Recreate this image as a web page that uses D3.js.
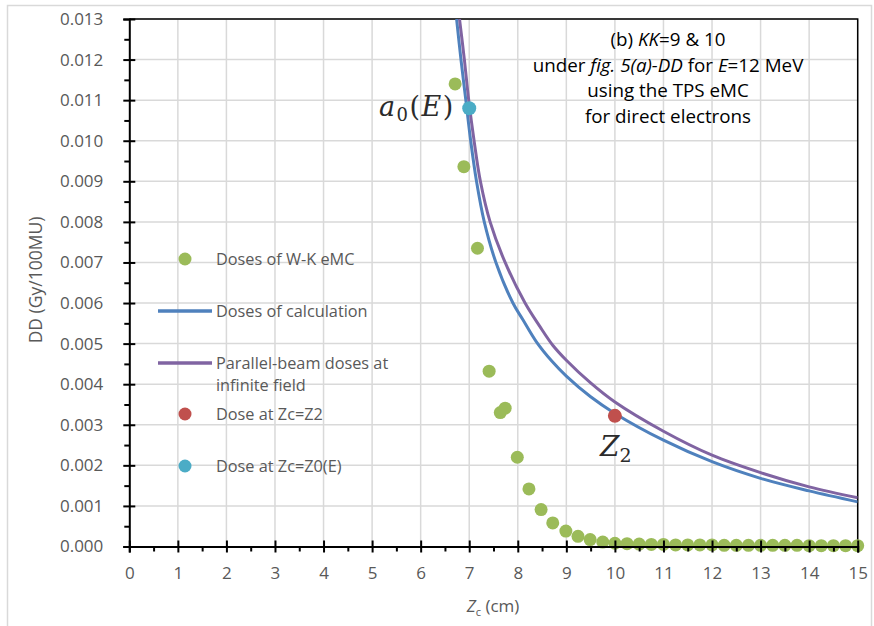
<!DOCTYPE html>
<html>
<head>
<meta charset="utf-8">
<script src="https://cdn.jsdelivr.net/npm/d3@7"></script>
<style>
	body { margin: 0; background: #fff; }
	text { font-family: "Open Sans", sans-serif; }
	text.math { font-family: "DejaVu Serif", serif; }
</style>
</head>
<body>
<svg id="chart" width="874" height="626"></svg>
<script>
// W-K eMC doses (green dots)
var wkZ = [6.71, 6.89, 7.17, 7.41, 7.64, 7.74, 7.99, 8.23, 8.48, 8.72, 8.99, 9.24, 9.49, 9.75, 10.0, 10.25,
	10.5, 10.75, 11.0, 11.25, 11.5, 11.75, 12.0, 12.25, 12.5, 12.75, 13.0, 13.25, 13.5, 13.75, 14.0, 14.25, 14.5, 14.75, 15.0];
var wkDose = [0.01140, 0.00936, 0.00735, 0.00432, 0.00330, 0.00341, 0.00220, 0.00142, 0.00091, 0.00058, 0.00038, 0.00025, 0.00017, 0.00011, 0.00008, 0.00007,
	0.00006, 0.00005, 0.00005, 0.00004, 0.00004, 0.00004, 0.00004, 0.00003, 0.00003, 0.00003, 0.00003, 0.00003, 0.00003, 0.00003, 0.00002, 0.00002, 0.00002, 0.00002, 0.00002];

// doses of calculation (blue line)
var calcZ = [6.74, 6.83, 6.93, 7.03, 7.15, 7.31, 7.55, 7.90, 8.10, 8.38, 8.70, 9.0, 9.5, 10, 11, 12, 13, 14, 15];
var calcDose = [0.013, 0.012, 0.011, 0.010, 0.009, 0.008, 0.007, 0.006, 0.0056, 0.00505, 0.00457, 0.0042, 0.00369, 0.00328, 0.00262, 0.00209, 0.00168, 0.00137, 0.00110];

// parallel-beam doses at infinite field (purple line)
var parZ = [6.80, 6.90, 6.99, 7.10, 7.23, 7.43, 7.74, 8.15, 8.45, 8.72, 9.0, 9.5, 10, 11, 12, 13, 14, 15];
var parDose = [0.013, 0.012, 0.011, 0.010, 0.009, 0.008, 0.007, 0.006, 0.00543, 0.00496, 0.00459, 0.00403, 0.00356, 0.00284, 0.00225, 0.00182, 0.00147, 0.00120];

// single marked points
var z2Z = [10.0], z2Dose = [0.00322];
var z0Z = [7.0], z0Dose = [0.0108];

var xTicks = [0, 1, 2, 3, 4, 5, 6, 7, 8, 9, 10, 11, 12, 13, 14, 15];
var xMinor = [0.5, 1.5, 2.5, 3.5, 4.5, 5.5, 6.5, 7.5, 8.5, 9.5, 10.5, 11.5, 12.5, 13.5, 14.5];
var yTicks = [0, 0.001, 0.002, 0.003, 0.004, 0.005, 0.006, 0.007, 0.008, 0.009, 0.010, 0.011, 0.012, 0.013];
var yMinor = [0.0005, 0.0015, 0.0025, 0.0035, 0.0045, 0.0055, 0.0065, 0.0075, 0.0085, 0.0095, 0.0105, 0.0115, 0.0125];

var legendItems = [
	{ kind: "dot", color: "#9bbb59", lines: ["Doses of W-K eMC"], y: 259 },
	{ kind: "line", color: "#4f81bd", lines: ["Doses of calculation"], y: 311 },
	{ kind: "line", color: "#8064a2", lines: ["Parallel-beam doses at", "infinite field"], y: 363 },
	{ kind: "dot", color: "#c0504d", lines: ["Dose at Zc=Z2"], y: 414 },
	{ kind: "dot", color: "#4bacc6", lines: ["Dose at Zc=Z0(E)"], y: 466 }
];

var pLeft = 129.3, pTop = 19, pRight = 857.7, pBottom = 546.5;
var svg = d3.select("#chart");

// outer chart border
svg.append("rect")
	.attr("x", 7.5).attr("y", 5.5)
	.attr("width", 864).attr("height", 640)
	.attr("fill", "none")
	.attr("stroke", "#d9d9d9")
	.attr("stroke-width", 1.5);

var x = d3.scaleLinear().domain([0, 15]).range([pLeft, pRight]);
var y = d3.scaleLinear().domain([0, 0.013]).range([pBottom, pTop]);

// grid
var grid = svg.append("g").attr("class", "grid");
grid.selectAll("line.v")
	.data(xTicks.slice(1))
	.enter().append("line")
	.attr("x1", function(d) { return x(d); })
	.attr("x2", function(d) { return x(d); })
	.attr("y1", pTop).attr("y2", pBottom)
	.attr("stroke", "#d9d9d9").attr("stroke-width", 1.5);
grid.selectAll("line.h")
	.data(yTicks.slice(1))
	.enter().append("line")
	.attr("x1", pLeft).attr("x2", pRight)
	.attr("y1", function(d) { return y(d); })
	.attr("y2", function(d) { return y(d); })
	.attr("stroke", "#d9d9d9").attr("stroke-width", 1.5);

// plot frame (top and right)
svg.append("path")
	.attr("d", "M" + pLeft + "," + pTop + "H" + pRight + "V" + pBottom)
	.attr("fill", "none")
	.attr("stroke", "#000")
	.attr("stroke-width", 1.5);

svg.append("clipPath").attr("id", "plotclip")
	.append("rect")
	.attr("x", pLeft).attr("y", pTop)
	.attr("width", pRight - pLeft).attr("height", pBottom - pTop);

var plot = svg.append("g").attr("clip-path", "url(#plotclip)");

// green dots under the lines
svg.append("g")
	.selectAll("circle")
	.data(wkZ.map(function(z, i) { return [z, wkDose[i]]; }))
	.enter().append("circle")
	.attr("cx", function(d) { return x(d[0]); })
	.attr("cy", function(d) { return y(d[1]); })
	.attr("r", 6.5)
	.attr("fill", "#9bbb59");

var line = d3.line()
	.x(function(d) { return x(d[0]); })
	.y(function(d) { return y(d[1]); })
	.curve(d3.curveCatmullRom.alpha(0.5));

plot.append("path")
	.datum(calcZ.map(function(z, i) { return [z, calcDose[i]]; }))
	.attr("d", line)
	.attr("fill", "none")
	.attr("stroke", "#4f81bd")
	.attr("stroke-width", 3);

plot.append("path")
	.datum(parZ.map(function(z, i) { return [z, parDose[i]]; }))
	.attr("d", line)
	.attr("fill", "none")
	.attr("stroke", "#8064a2")
	.attr("stroke-width", 3);

svg.append("g")
	.selectAll("circle")
	.data(z2Z.map(function(z, i) { return [z, z2Dose[i]]; }))
	.enter().append("circle")
	.attr("cx", function(d) { return x(d[0]); })
	.attr("cy", function(d) { return y(d[1]); })
	.attr("r", 7)
	.attr("fill", "#c0504d");

svg.append("g")
	.selectAll("circle")
	.data(z0Z.map(function(z, i) { return [z, z0Dose[i]]; }))
	.enter().append("circle")
	.attr("cx", function(d) { return x(d[0]); })
	.attr("cy", function(d) { return y(d[1]); })
	.attr("r", 7)
	.attr("fill", "#4bacc6");

// axes
var yAxis = svg.append("g")
	.attr("transform", "translate(" + pLeft + ",0)")
	.call(d3.axisLeft(y).tickValues(yTicks).tickSize(6).tickPadding(20).tickFormat(d3.format(".3f")));
yAxis.selectAll(".tick line").attr("x1", 6).attr("stroke-width", 2);
svg.append("g")
	.attr("transform", "translate(" + pLeft + ",0)")
	.call(d3.axisLeft(y).tickValues(yMinor).tickSize(5).tickFormat(""))
	.call(function(g) { g.select(".domain").remove(); })
	.selectAll(".tick line").attr("stroke-width", 2);

var xAxis = svg.append("g")
	.attr("transform", "translate(0," + pBottom + ")")
	.call(d3.axisBottom(x).tickValues(xTicks).tickSize(6).tickPadding(14).tickFormat(d3.format("d")));
xAxis.selectAll(".tick line").attr("y1", -6).attr("stroke-width", 2);
svg.append("g")
	.attr("transform", "translate(0," + pBottom + ")")
	.call(d3.axisBottom(x).tickValues(xMinor).tickSize(5).tickFormat(""))
	.call(function(g) { g.select(".domain").remove(); })
	.selectAll(".tick line").attr("stroke-width", 2);

svg.selectAll(".domain").attr("stroke-width", 2);
svg.selectAll(".tick text")
	.attr("font-family", "Open Sans, sans-serif")
	.attr("font-size", 17)
	.attr("fill", "#595959");

// axis titles
svg.append("text")
	.attr("transform", "translate(35,280) rotate(-90)")
	.attr("text-anchor", "middle")
	.attr("dominant-baseline", "central")
	.attr("font-size", 17.5)
	.attr("fill", "#595959")
	.text("DD (Gy/100MU)");

var xt = svg.append("text")
	.attr("x", 493).attr("y", 612)
	.attr("text-anchor", "middle")
	.attr("font-size", 17)
	.attr("fill", "#595959");
xt.append("tspan").attr("font-style", "italic").text("Z");
xt.append("tspan").attr("font-size", 11).attr("dy", 4).text("c");
xt.append("tspan").attr("dy", -4).text(" (cm)");

// legend
var lg = svg.append("g").attr("class", "legend");
legendItems.forEach(function(it) {
	if (it.kind == "dot") {
		lg.append("circle").attr("cx", 185).attr("cy", it.y).attr("r", 6.5).attr("fill", it.color);
	} else {
		lg.append("line").attr("x1", 158).attr("x2", 212).attr("y1", it.y).attr("y2", it.y)
			.attr("stroke", it.color).attr("stroke-width", 3.5);
	}
	it.lines.forEach(function(t, k) {
		lg.append("text")
			.attr("x", 216).attr("y", it.y + k * 22)
			.attr("dominant-baseline", "central")
			.attr("font-size", 16.3)
			.attr("fill", "#595959")
			.text(t);
	});
});

// annotation, top right
var note = svg.append("g").attr("font-size", 18.8).attr("fill", "#000").attr("text-anchor", "middle");
var n1 = note.append("text").attr("x", 668).attr("y", 46);
n1.append("tspan").text("(b) ");
n1.append("tspan").attr("font-style", "italic").text("KK");
n1.append("tspan").text("=9 & 10");
var n2 = note.append("text").attr("x", 668).attr("y", 72);
n2.append("tspan").text("under ");
n2.append("tspan").attr("font-style", "italic").text("fig. 5(a)-DD");
n2.append("tspan").text(" for ");
n2.append("tspan").attr("font-style", "italic").text("E");
n2.append("tspan").text("=12 MeV");
note.append("text").attr("x", 668).attr("y", 97).text("using the TPS eMC");
note.append("text").attr("x", 668).attr("y", 122.5).text("for direct electrons");

// math labels
var a0 = svg.append("text")
	.attr("class", "math")
	.attr("x", 379).attr("y", 116)
	.attr("font-size", 27)
	.attr("letter-spacing", 1.5)
	.attr("fill", "#2b2b2b");
a0.append("tspan").attr("font-style", "italic").text("a");
a0.append("tspan").attr("font-size", 18).attr("dy", 5).text("0");
a0.append("tspan").attr("dy", -5).text("(");
a0.append("tspan").attr("font-style", "italic").text("E");
a0.append("tspan").text(")");

var zl = svg.append("text")
	.attr("class", "math")
	.attr("x", 600).attr("y", 456)
	.attr("font-size", 28)
	.attr("fill", "#2b2b2b");
zl.append("tspan").attr("font-style", "italic").text("Z");
zl.append("tspan").attr("font-size", 19).attr("dy", 6).text("2");
</script>
</body>
</html>
